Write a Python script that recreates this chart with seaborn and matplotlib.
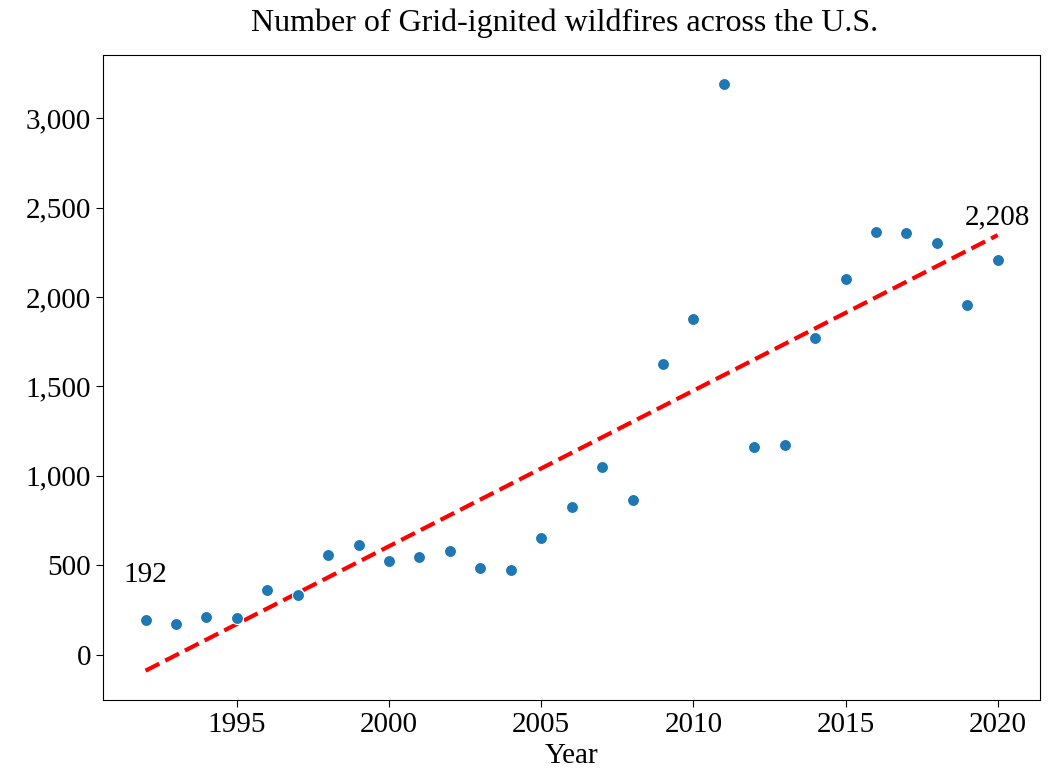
import numpy as np
import pandas as pd
import matplotlib
matplotlib.use("Agg")
import matplotlib.pyplot as plt
import seaborn as sns
from matplotlib.ticker import FuncFormatter

# Annual count of wildfires ignited by power-grid infrastructure
years = list(range(1992, 2021))
fires = [192, 170, 210, 203, 362, 334, 558, 614, 524, 548,
         578, 483, 476, 651, 823, 1050, 862, 1625, 1877, 3189,
         1160, 1172, 1769, 2101, 2364, 2356, 2302, 1957, 2208]

plt.rcParams["font.family"] = ["Liberation Serif", "DejaVu Serif"]

df = pd.DataFrame({"Year": years, "Fires": fires})

fig = plt.figure(figsize=(10.54, 7.70), dpi=100)
ax = fig.add_axes([0.0977, 0.0909, 0.8893, 0.8377])

sns.scatterplot(data=df, x="Year", y="Fires", ax=ax, s=75,
                color="#1f77b4", edgecolor="white", linewidth=0.8, zorder=3)

# Least-squares linear trend
slope, intercept = np.polyfit(df["Year"], df["Fires"], 1)
trend = slope * df["Year"] + intercept
ax.plot(df["Year"], trend, color="red", linestyle="--", linewidth=3, zorder=2)

# Label first and last observations
ax.text(years[0], fires[0] + 180, f"{fires[0]:,}", ha="center", va="bottom", fontsize=21)
ax.text(years[-1], fires[-1] + 165, f"{fires[-1]:,}", ha="center", va="bottom", fontsize=21)

ax.set_yticks(np.arange(0, 3001, 500))
ax.set_xticks(np.arange(1995, 2021, 5))
ax.yaxis.set_major_formatter(FuncFormatter(lambda v, p: f"{int(v):,}"))
ax.tick_params(labelsize=21, length=5)
ax.set_xlabel("Year", fontsize=21, labelpad=4)
ax.set_ylabel("")
ax.set_title("Number of Grid-ignited wildfires across the U.S.", fontsize=23, pad=17, x=0.492)

fig.savefig("out.png", dpi=100)
